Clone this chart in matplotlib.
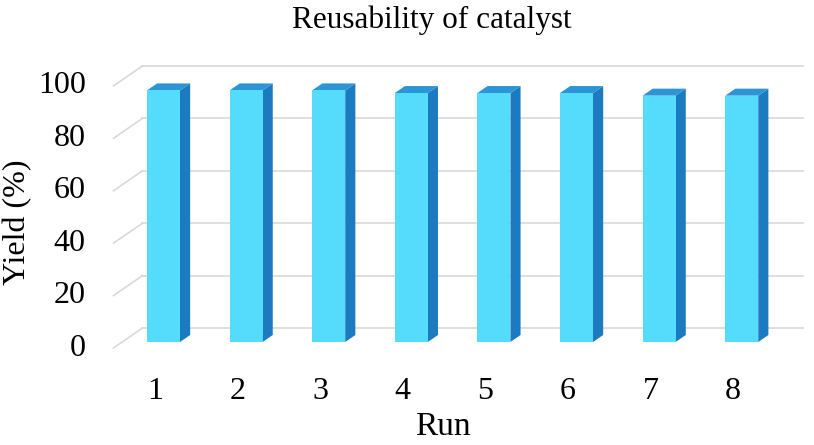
import matplotlib.pyplot as plt
from matplotlib.patches import Polygon

plt.rcParams['font.family'] = ['Liberation Serif', 'DejaVu Serif']

runs = [1, 2, 3, 4, 5, 6, 7, 8]
yields = [96, 96, 96, 95, 95, 95, 94, 94]
yticks = [0, 20, 40, 60, 80, 100]

# pseudo-3D depth direction (data units per unit depth)
dx, dy = 0.351, 7.63
floor_front = -0.3   # depth of floor front edge, relative to bar fronts
bar_back = 0.35
wall = 0.7
half_w = 0.2

front_col = '#55DCFD'
side_col = '#1C7BC0'
top_col = '#2B95D6'
grid_col = '#D9D9D9'

fig = plt.figure(figsize=(8.14, 4.45), dpi=100)
ax = fig.add_axes([0, 0, 1, 1])
ax.set_xlim(-0.979, 8.875)
ax.set_ylim(-39.3, 130.5)
ax.axis('off')

x0, x1 = 0.5, 8.5
for v in yticks:
    # back wall gridline
    ax.plot([x0 + wall * dx, x1 + wall * dx], [v + wall * dy, v + wall * dy],
            color=grid_col, lw=1.2, zorder=1)
    # left side diagonal
    ax.plot([x0 + floor_front * dx, x0 + wall * dx],
            [v + floor_front * dy, v + wall * dy],
            color=grid_col, lw=1.2, zorder=1)
    ax.annotate(str(v), xy=(x0 + floor_front * dx, v + floor_front * dy),
                xytext=(-20, 0), textcoords='offset points',
                ha='right', va='center', fontsize=23)

bx, by = bar_back * dx, bar_back * dy
for r, v in zip(runs, yields):
    l, rt = r - half_w, r + half_w
    ax.add_patch(Polygon([(rt, 0), (rt + bx, by), (rt + bx, v + by), (rt, v)],
                         closed=True, fc=side_col, ec='none', zorder=2))
    ax.add_patch(Polygon([(l, v), (rt, v), (rt + bx, v + by), (l + bx, v + by)],
                         closed=True, fc=top_col, ec='none', zorder=2))
    ax.add_patch(Polygon([(l, 0), (rt, 0), (rt, v), (l, v)],
                         closed=True, fc=front_col, ec='none', zorder=3))
    ax.annotate(str(r), xy=(r + floor_front * dx, floor_front * dy),
                xytext=(0, -31), textcoords='offset points',
                ha='center', va='center', fontsize=23)

fig.text(0.531, 0.955, 'Reusability of catalyst', ha='center', va='center', fontsize=22.5)
fig.text(0.022, 0.5, 'Yield (%)', ha='center', va='center', rotation=90, fontsize=23)
fig.text(0.544, 0.022, 'Run', ha='center', va='baseline', fontsize=24)

fig.savefig('out.png', dpi=100)
